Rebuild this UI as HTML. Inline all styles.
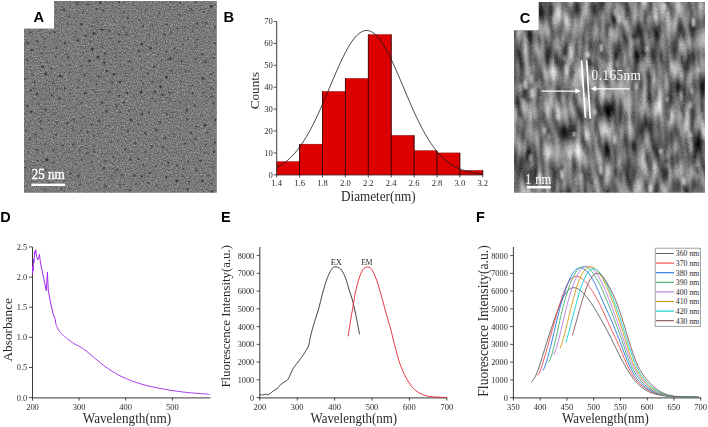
<!DOCTYPE html>
<html lang="en"><head><meta charset="utf-8"><title>Figure</title>
<style>
html,body{margin:0;padding:0;background:#fff;}
body{width:708px;height:427px;overflow:hidden;position:relative;}
svg{display:block;position:absolute;left:0;top:0;}
.se{font-family:"Liberation Serif", "DejaVu Serif", serif;}
.sa{font-family:"Liberation Sans", "DejaVu Sans", sans-serif;font-weight:bold;}
</style></head><body>
<svg width="708" height="427" viewBox="0 0 708 427">
<defs>
<filter id="grainA" x="0" y="0" width="100%" height="100%" color-interpolation-filters="sRGB"><feTurbulence type="fractalNoise" baseFrequency="0.75" numOctaves="2" seed="7" result="n"/><feColorMatrix in="n" type="matrix" values="0.54 0 0 0 0.2047  0.54 0 0 0 0.2047  0.54 0 0 0 0.2047  0 0 0 0 1"/></filter>
<filter id="grainC" x="0" y="0" width="100%" height="100%" color-interpolation-filters="sRGB"><feTurbulence type="fractalNoise" baseFrequency="0.19 0.05" numOctaves="1" seed="11" result="n1"/><feColorMatrix in="n1" type="matrix" values="1 0 0 0 0  1 0 0 0 0  1 0 0 0 0  0 0 0 0 1" result="g1"/><feTurbulence type="fractalNoise" baseFrequency="0.09 0.05" numOctaves="1" seed="5" result="n4"/><feColorMatrix in="n4" type="matrix" values="1 0 0 0 0  1 0 0 0 0  1 0 0 0 0  0 0 0 0 1" result="g4"/><feTurbulence type="fractalNoise" baseFrequency="0.6" numOctaves="1" seed="3" result="n2"/><feColorMatrix in="n2" type="matrix" values="1 0 0 0 0  1 0 0 0 0  1 0 0 0 0  0 0 0 0 1" result="g2"/><feTurbulence type="fractalNoise" baseFrequency="0.03 0.028" numOctaves="1" seed="23" result="n3"/><feColorMatrix in="n3" type="matrix" values="1 0 0 0 0  1 0 0 0 0  1 0 0 0 0  0 0 0 0 1" result="g3"/><feComposite in="g1" in2="g4" operator="arithmetic" k1="0" k2="0.40" k3="0.30" k4="0" result="c1"/><feComposite in="c1" in2="g2" operator="arithmetic" k1="0" k2="1" k3="0.12" k4="0" result="c2"/><feComposite in="c2" in2="g3" operator="arithmetic" k1="0" k2="2.3" k3="0.55" k4="-0.745" result="c3"/><feGaussianBlur in="c3" stdDeviation="0.5"/></filter>
<filter id="b1"><feGaussianBlur stdDeviation="0.55"/></filter>
<filter id="b1c" x="-5%" y="-5%" width="110%" height="110%"><feGaussianBlur stdDeviation="1.1"/></filter>
<filter id="b6" x="-50%" y="-50%" width="200%" height="200%"><feGaussianBlur stdDeviation="3.2"/></filter>
<clipPath id="clipA"><path d="M54.1 1H216.6V192.4H24V28.7H54.1Z"/></clipPath>
<clipPath id="clipC"><path d="M538.8 2H704.9V192.4H514.1V30.4H538.8Z"/></clipPath>
</defs>
<g clip-path="url(#clipA)">
<rect x="24" y="1" width="193" height="192" fill="#7a7a7a"/>
<rect x="24" y="1" width="193" height="192" filter="url(#grainA)"/>
<g fill="#303030" filter="url(#b1)">
<circle cx="143.97" cy="142.94" r="0.8" opacity="0.5"/>
<circle cx="176.88" cy="181.07" r="1.2" opacity="0.85"/>
<circle cx="166.32" cy="177.24" r="1.2" opacity="0.75"/>
<circle cx="30.54" cy="90.47" r="1.35" opacity="0.56"/>
<circle cx="205.18" cy="125.31" r="1.35" opacity="0.9"/>
<circle cx="197.07" cy="23.51" r="1.2" opacity="0.74"/>
<circle cx="114.59" cy="48.85" r="1.0" opacity="0.5"/>
<circle cx="128.86" cy="111.05" r="0.9" opacity="0.72"/>
<circle cx="27.5" cy="43.18" r="1.2" opacity="0.63"/>
<circle cx="78.38" cy="176.11" r="1.35" opacity="0.75"/>
<circle cx="171.25" cy="32.32" r="1.1" opacity="0.46"/>
<circle cx="177.26" cy="28.37" r="0.9" opacity="0.76"/>
<circle cx="142.93" cy="26.07" r="1.1" opacity="0.77"/>
<circle cx="25.34" cy="167.57" r="0.9" opacity="0.79"/>
<circle cx="65.01" cy="42.94" r="1.1" opacity="0.83"/>
<circle cx="212.64" cy="167.76" r="1.1" opacity="0.54"/>
<circle cx="80.26" cy="184.68" r="1.0" opacity="0.74"/>
<circle cx="127.99" cy="130.79" r="1.1" opacity="0.78"/>
<circle cx="64.11" cy="180.79" r="1.1" opacity="0.66"/>
<circle cx="156.91" cy="185.65" r="0.9" opacity="0.61"/>
<circle cx="195.7" cy="58.77" r="1.0" opacity="0.69"/>
<circle cx="93.99" cy="33.53" r="1.35" opacity="0.93"/>
<circle cx="82.56" cy="116.59" r="0.8" opacity="0.89"/>
<circle cx="25.65" cy="130.81" r="0.8" opacity="0.92"/>
<circle cx="89.54" cy="60.89" r="1.35" opacity="0.88"/>
<circle cx="181.34" cy="93.34" r="0.8" opacity="0.55"/>
<circle cx="85.32" cy="93.43" r="1.35" opacity="0.72"/>
<circle cx="159.59" cy="12.83" r="0.9" opacity="0.61"/>
<circle cx="211.24" cy="6.34" r="1.35" opacity="0.9"/>
<circle cx="168.21" cy="162.53" r="1.1" opacity="0.95"/>
<circle cx="28.45" cy="151.67" r="1.0" opacity="0.59"/>
<circle cx="94.94" cy="111.92" r="0.8" opacity="0.51"/>
<circle cx="62.54" cy="145.59" r="1.35" opacity="0.49"/>
<circle cx="202.56" cy="180.99" r="1.35" opacity="0.87"/>
<circle cx="90.78" cy="69.41" r="0.9" opacity="0.49"/>
<circle cx="125.22" cy="149.36" r="1.1" opacity="0.67"/>
<circle cx="45.64" cy="144.2" r="1.0" opacity="0.64"/>
<circle cx="177.27" cy="165.34" r="1.2" opacity="0.63"/>
<circle cx="32" cy="181.7" r="0.9" opacity="0.49"/>
<circle cx="42.42" cy="66.74" r="1.35" opacity="0.89"/>
<circle cx="141.67" cy="176.44" r="1.35" opacity="0.61"/>
<circle cx="89.93" cy="177.6" r="0.8" opacity="0.82"/>
<circle cx="129.12" cy="61.37" r="1.2" opacity="0.64"/>
<circle cx="85.51" cy="35.72" r="1.2" opacity="0.61"/>
<circle cx="39.94" cy="30.28" r="0.9" opacity="0.75"/>
<circle cx="55.85" cy="11.22" r="0.9" opacity="0.46"/>
<circle cx="213.46" cy="103.37" r="1.1" opacity="0.77"/>
<circle cx="102.52" cy="47.09" r="0.8" opacity="0.87"/>
<circle cx="138.45" cy="159" r="1.35" opacity="0.64"/>
<circle cx="112.03" cy="82.13" r="1.0" opacity="0.7"/>
<circle cx="185.14" cy="26.81" r="1.1" opacity="0.49"/>
<circle cx="145.41" cy="151.72" r="1.2" opacity="0.49"/>
<circle cx="45.37" cy="84.57" r="1.0" opacity="0.54"/>
<circle cx="53.51" cy="162.5" r="1.2" opacity="0.47"/>
<circle cx="211.42" cy="88.17" r="1.2" opacity="0.48"/>
<circle cx="118.24" cy="140.61" r="0.8" opacity="0.73"/>
<circle cx="116.5" cy="57.29" r="0.8" opacity="0.86"/>
<circle cx="102.12" cy="29.84" r="1.1" opacity="0.88"/>
<circle cx="97.01" cy="189.79" r="0.8" opacity="0.72"/>
<circle cx="120.37" cy="66.31" r="0.9" opacity="0.75"/>
<circle cx="42.03" cy="53.74" r="0.8" opacity="0.8"/>
<circle cx="94.01" cy="151.34" r="1.1" opacity="0.63"/>
<circle cx="173.01" cy="133.97" r="0.8" opacity="0.83"/>
<circle cx="151.83" cy="146.33" r="1.35" opacity="0.55"/>
<circle cx="94.42" cy="135.85" r="1.0" opacity="0.59"/>
<circle cx="149.09" cy="112.33" r="1.0" opacity="0.93"/>
<circle cx="27.21" cy="105.93" r="1.2" opacity="0.68"/>
<circle cx="72.88" cy="129.61" r="0.9" opacity="0.57"/>
<circle cx="113.42" cy="157.17" r="0.9" opacity="0.94"/>
<circle cx="91.45" cy="124.37" r="0.9" opacity="0.89"/>
<circle cx="91.86" cy="162.15" r="0.8" opacity="0.81"/>
<circle cx="191.15" cy="132.78" r="1.1" opacity="0.76"/>
<circle cx="211.44" cy="183.74" r="0.8" opacity="0.79"/>
<circle cx="123.96" cy="102.57" r="1.0" opacity="0.92"/>
<circle cx="204.04" cy="92.68" r="1.1" opacity="0.55"/>
<circle cx="157.06" cy="138.74" r="0.9" opacity="0.46"/>
<circle cx="164.5" cy="34.65" r="1.35" opacity="0.66"/>
<circle cx="174.05" cy="112.36" r="0.9" opacity="0.52"/>
<circle cx="152.12" cy="81.95" r="1.0" opacity="0.54"/>
<circle cx="30.28" cy="32.4" r="1.2" opacity="0.5"/>
<circle cx="109.24" cy="125.52" r="1.0" opacity="0.58"/>
<circle cx="145.5" cy="9.95" r="0.9" opacity="0.63"/>
<circle cx="113.88" cy="74.26" r="1.2" opacity="0.94"/>
<circle cx="141.85" cy="114.13" r="1.35" opacity="0.64"/>
<circle cx="70.43" cy="173.6" r="1.1" opacity="0.81"/>
<circle cx="25.13" cy="79.02" r="1.1" opacity="0.57"/>
<circle cx="78.2" cy="79.91" r="1.0" opacity="0.48"/>
<circle cx="46.98" cy="159.96" r="1.35" opacity="0.92"/>
<circle cx="96.41" cy="8.85" r="1.2" opacity="0.6"/>
<circle cx="135.95" cy="184.08" r="1.0" opacity="0.85"/>
<circle cx="181.34" cy="81.63" r="0.8" opacity="0.9"/>
<circle cx="180.28" cy="124.04" r="0.8" opacity="0.51"/>
<circle cx="141.24" cy="68.71" r="0.9" opacity="0.58"/>
<circle cx="195.65" cy="2.18" r="1.0" opacity="0.58"/>
<circle cx="45.61" cy="109.5" r="1.1" opacity="0.92"/>
<circle cx="96.79" cy="84.02" r="0.9" opacity="0.78"/>
<circle cx="68.23" cy="57.38" r="1.1" opacity="0.84"/>
<circle cx="210.74" cy="74.16" r="0.9" opacity="0.68"/>
<circle cx="208.58" cy="175.61" r="1.2" opacity="0.53"/>
<circle cx="138.8" cy="51.37" r="1.35" opacity="0.63"/>
<circle cx="212.37" cy="96.3" r="0.9" opacity="0.8"/>
<circle cx="104.36" cy="62.64" r="1.1" opacity="0.92"/>
<circle cx="48.28" cy="120.12" r="0.8" opacity="0.58"/>
<circle cx="174.34" cy="48.68" r="1.1" opacity="0.56"/>
<circle cx="76.13" cy="31.41" r="0.8" opacity="0.74"/>
<circle cx="213.87" cy="57.71" r="0.8" opacity="0.81"/>
<circle cx="141.14" cy="92.18" r="1.35" opacity="0.9"/>
<circle cx="167" cy="24.45" r="1.0" opacity="0.79"/>
<circle cx="170.24" cy="59.13" r="1.35" opacity="0.88"/>
<circle cx="81.69" cy="102.67" r="0.8" opacity="0.95"/>
<circle cx="167.3" cy="114.25" r="1.1" opacity="0.8"/>
<circle cx="31.96" cy="49.96" r="1.1" opacity="0.92"/>
<circle cx="112.02" cy="176.15" r="1.2" opacity="0.49"/>
<circle cx="194.6" cy="105.66" r="1.35" opacity="0.6"/>
<circle cx="106.7" cy="111.37" r="1.35" opacity="0.74"/>
<circle cx="160.26" cy="122.12" r="0.9" opacity="0.95"/>
<circle cx="98.63" cy="76.45" r="1.0" opacity="0.93"/>
<circle cx="187.71" cy="39.33" r="0.8" opacity="0.9"/>
<circle cx="81.62" cy="159.7" r="1.0" opacity="0.62"/>
<circle cx="37.62" cy="160.89" r="1.0" opacity="0.73"/>
<circle cx="79.69" cy="150.34" r="1.0" opacity="0.55"/>
<circle cx="116.38" cy="106.33" r="1.0" opacity="0.84"/>
<circle cx="54.32" cy="113.31" r="1.0" opacity="0.52"/>
<circle cx="180.06" cy="15" r="1.35" opacity="0.49"/>
<circle cx="68.93" cy="157.72" r="0.8" opacity="0.53"/>
<circle cx="29.88" cy="139.29" r="1.2" opacity="0.49"/>
<circle cx="211.93" cy="191.68" r="1.2" opacity="0.78"/>
<circle cx="148.34" cy="182.93" r="1.0" opacity="0.81"/>
<circle cx="45.67" cy="74.05" r="1.35" opacity="0.86"/>
<circle cx="134.87" cy="143.04" r="1.35" opacity="0.66"/>
<circle cx="35.65" cy="134.49" r="1.1" opacity="0.59"/>
<circle cx="121.62" cy="174.98" r="1.1" opacity="0.67"/>
<circle cx="130.98" cy="119.97" r="1.35" opacity="0.91"/>
<circle cx="75.28" cy="106.82" r="0.9" opacity="0.56"/>
<circle cx="73.55" cy="144.61" r="1.2" opacity="0.63"/>
<circle cx="123.75" cy="27.42" r="0.9" opacity="0.7"/>
<circle cx="69.77" cy="72.53" r="1.0" opacity="0.64"/>
<circle cx="41.28" cy="128.91" r="1.1" opacity="0.63"/>
<circle cx="192.49" cy="93.29" r="1.1" opacity="0.75"/>
<circle cx="86.75" cy="153.33" r="1.0" opacity="0.8"/>
<circle cx="67.61" cy="24.05" r="0.8" opacity="0.7"/>
<circle cx="69.89" cy="65.32" r="0.9" opacity="0.78"/>
<circle cx="187.65" cy="100.32" r="0.8" opacity="0.79"/>
<circle cx="166.37" cy="77.15" r="1.35" opacity="0.88"/>
<circle cx="63.66" cy="9.5" r="1.2" opacity="0.75"/>
<circle cx="170.23" cy="2.08" r="0.8" opacity="0.73"/>
<circle cx="143.32" cy="83.44" r="1.2" opacity="0.6"/>
<circle cx="113.92" cy="20.95" r="0.8" opacity="0.72"/>
<circle cx="54.54" cy="32.22" r="1.1" opacity="0.71"/>
<circle cx="193.15" cy="30.9" r="0.8" opacity="0.67"/>
<circle cx="55.85" cy="56.54" r="0.8" opacity="0.77"/>
<circle cx="69.92" cy="93.59" r="1.0" opacity="0.53"/>
<circle cx="156.35" cy="130.02" r="1.35" opacity="0.67"/>
<circle cx="80.6" cy="130.15" r="0.8" opacity="0.6"/>
<circle cx="69.02" cy="16.86" r="1.1" opacity="0.5"/>
<circle cx="164.88" cy="138.41" r="1.35" opacity="0.62"/>
<circle cx="56.2" cy="47.7" r="1.2" opacity="0.64"/>
<circle cx="36.63" cy="150.06" r="1.2" opacity="0.52"/>
<circle cx="103.34" cy="10.54" r="1.35" opacity="0.58"/>
<circle cx="129.75" cy="190.03" r="1.35" opacity="0.57"/>
<circle cx="203.73" cy="12.21" r="0.9" opacity="0.8"/>
<circle cx="83.44" cy="11.75" r="0.9" opacity="0.58"/>
<circle cx="59.26" cy="98.64" r="1.1" opacity="0.77"/>
<circle cx="101.85" cy="102.95" r="1.35" opacity="0.57"/>
<circle cx="200.97" cy="115.67" r="0.9" opacity="0.66"/>
<circle cx="182.85" cy="44.55" r="1.2" opacity="0.47"/>
<circle cx="47.1" cy="61.23" r="0.9" opacity="0.54"/>
<circle cx="181.51" cy="61.45" r="1.0" opacity="0.75"/>
<circle cx="96.39" cy="20.72" r="0.8" opacity="0.84"/>
<circle cx="196.15" cy="126.28" r="0.9" opacity="0.88"/>
<circle cx="189.22" cy="182.35" r="1.1" opacity="0.76"/>
<circle cx="106.92" cy="70.86" r="1.2" opacity="0.76"/>
<circle cx="88.1" cy="4.36" r="1.35" opacity="0.46"/>
<circle cx="126.29" cy="34.53" r="1.35" opacity="0.67"/>
<circle cx="160.5" cy="86.78" r="1.35" opacity="0.87"/>
<circle cx="204.26" cy="153.01" r="0.8" opacity="0.81"/>
<circle cx="31.28" cy="111.63" r="1.1" opacity="0.91"/>
<circle cx="117.06" cy="169.54" r="1.35" opacity="0.53"/>
<circle cx="77.92" cy="40.22" r="1.2" opacity="0.8"/>
<circle cx="132.42" cy="69.83" r="0.9" opacity="0.84"/>
<circle cx="92.19" cy="49.17" r="1.35" opacity="0.91"/>
<circle cx="187.32" cy="119.45" r="0.9" opacity="0.77"/>
<circle cx="196.93" cy="39.87" r="1.0" opacity="0.7"/>
<circle cx="155.43" cy="165.99" r="0.8" opacity="0.74"/>
<circle cx="60.29" cy="75.93" r="1.35" opacity="0.93"/>
<circle cx="84.61" cy="74.74" r="1.35" opacity="0.48"/>
<circle cx="154.78" cy="101.22" r="0.9" opacity="0.49"/>
<circle cx="161.46" cy="60.29" r="0.8" opacity="0.79"/>
<circle cx="202.48" cy="54.17" r="1.1" opacity="0.88"/>
<circle cx="196.16" cy="47.43" r="0.9" opacity="0.57"/>
<circle cx="100.14" cy="2.56" r="1.35" opacity="0.81"/>
<circle cx="149.74" cy="172.91" r="1.1" opacity="0.86"/>
<circle cx="83.37" cy="52.86" r="0.8" opacity="0.65"/>
<circle cx="56.98" cy="122.23" r="1.1" opacity="0.6"/>
<circle cx="183.58" cy="168.93" r="0.9" opacity="0.68"/>
<circle cx="209.61" cy="37.57" r="0.9" opacity="0.46"/>
<circle cx="138.55" cy="124.81" r="1.0" opacity="0.62"/>
<circle cx="36.73" cy="94.09" r="1.2" opacity="0.92"/>
<circle cx="44.25" cy="38.77" r="0.8" opacity="0.67"/>
<circle cx="37.31" cy="41.22" r="1.2" opacity="0.64"/>
<circle cx="119.64" cy="184.91" r="1.1" opacity="0.49"/>
<circle cx="81.52" cy="24.2" r="1.2" opacity="0.88"/>
<circle cx="97.98" cy="57.21" r="1.35" opacity="0.86"/>
<circle cx="81.53" cy="66.02" r="1.1" opacity="0.57"/>
<circle cx="34.63" cy="81.94" r="1.1" opacity="0.65"/>
<circle cx="98.78" cy="179.44" r="0.9" opacity="0.63"/>
<circle cx="179.86" cy="2.97" r="1.0" opacity="0.74"/>
<circle cx="171.29" cy="70.6" r="0.9" opacity="0.91"/>
<circle cx="123.7" cy="12.09" r="0.9" opacity="0.7"/>
<circle cx="109.54" cy="91.66" r="1.35" opacity="0.49"/>
<circle cx="207.36" cy="132.54" r="1.0" opacity="0.77"/>
<circle cx="103.93" cy="168.1" r="1.1" opacity="0.72"/>
<circle cx="182.71" cy="175.92" r="1.0" opacity="0.52"/>
<circle cx="53.31" cy="150.37" r="1.0" opacity="0.93"/>
<circle cx="105.63" cy="186.7" r="1.35" opacity="0.63"/>
<circle cx="214.89" cy="43.17" r="1.0" opacity="0.79"/>
<circle cx="105.49" cy="53.47" r="1.2" opacity="0.73"/>
<circle cx="152.3" cy="25.43" r="0.9" opacity="0.79"/>
<circle cx="57.32" cy="88.96" r="1.1" opacity="0.52"/>
<circle cx="196.4" cy="170.21" r="1.35" opacity="0.64"/>
<circle cx="147.91" cy="73.25" r="1.0" opacity="0.89"/>
<circle cx="95.42" cy="92.76" r="0.8" opacity="0.61"/>
<circle cx="32.31" cy="75.24" r="0.9" opacity="0.52"/>
<circle cx="110.71" cy="141.88" r="1.0" opacity="0.66"/>
<circle cx="125.99" cy="75.86" r="0.9" opacity="0.62"/>
<circle cx="130.38" cy="159.64" r="1.1" opacity="0.88"/>
<circle cx="51.36" cy="68.68" r="0.9" opacity="0.73"/>
<circle cx="64.61" cy="88.25" r="1.1" opacity="0.94"/>
<circle cx="166.56" cy="51.8" r="1.2" opacity="0.56"/>
<circle cx="99.22" cy="121.47" r="1.1" opacity="0.79"/>
<circle cx="192.42" cy="85.34" r="0.9" opacity="0.81"/>
<circle cx="191.42" cy="9.56" r="1.2" opacity="0.6"/>
<circle cx="141.9" cy="44.09" r="1.35" opacity="0.93"/>
<circle cx="206.26" cy="23.09" r="1.35" opacity="0.49"/>
<circle cx="195.39" cy="138.96" r="1.2" opacity="0.62"/>
<circle cx="169.82" cy="99.99" r="1.1" opacity="0.55"/>
<circle cx="149.27" cy="35.21" r="0.8" opacity="0.8"/>
<circle cx="51.51" cy="95.33" r="1.0" opacity="0.87"/>
<circle cx="134.5" cy="175.3" r="1.2" opacity="0.63"/>
<circle cx="45.6" cy="99.2" r="0.8" opacity="0.54"/>
<circle cx="127.64" cy="17.9" r="1.0" opacity="0.89"/>
<circle cx="179.88" cy="102.51" r="0.8" opacity="0.89"/>
<circle cx="134.63" cy="97.03" r="0.9" opacity="0.74"/>
<circle cx="44.6" cy="191.53" r="0.8" opacity="0.46"/>
<circle cx="143.35" cy="164.89" r="1.0" opacity="0.75"/>
<circle cx="56.17" cy="134.76" r="1.1" opacity="0.68"/>
<circle cx="205.24" cy="61.36" r="1.35" opacity="0.59"/>
<circle cx="105.37" cy="161.16" r="1.2" opacity="0.63"/>
<circle cx="154.07" cy="66.57" r="1.1" opacity="0.9"/>
<circle cx="119.46" cy="2.23" r="1.0" opacity="0.82"/>
<circle cx="176.05" cy="148.59" r="0.8" opacity="0.53"/>
<circle cx="127.23" cy="92.93" r="1.1" opacity="0.84"/>
<circle cx="77.29" cy="3.92" r="1.2" opacity="0.62"/>
<circle cx="82.3" cy="140.47" r="0.8" opacity="0.83"/>
<circle cx="156.64" cy="43.24" r="0.9" opacity="0.73"/>
<circle cx="109.69" cy="38.24" r="0.8" opacity="0.55"/>
<circle cx="185.49" cy="71.47" r="0.9" opacity="0.84"/>
<circle cx="53.44" cy="82.81" r="1.2" opacity="0.6"/>
<circle cx="169.58" cy="92.76" r="1.1" opacity="0.92"/>
<circle cx="38.54" cy="104.02" r="1.0" opacity="0.48"/>
<circle cx="138.53" cy="19.92" r="0.9" opacity="0.51"/>
<circle cx="109.62" cy="30.72" r="0.9" opacity="0.89"/>
<circle cx="78.14" cy="87.41" r="1.0" opacity="0.57"/>
<circle cx="90.41" cy="41.71" r="0.9" opacity="0.81"/>
<circle cx="87.67" cy="132.35" r="1.35" opacity="0.54"/>
<circle cx="186.55" cy="110.25" r="1.35" opacity="0.74"/>
<circle cx="40.56" cy="121.05" r="1.2" opacity="0.7"/>
<circle cx="188" cy="161.93" r="1.1" opacity="0.7"/>
<circle cx="46.26" cy="170.2" r="1.35" opacity="0.51"/>
<circle cx="215.43" cy="26.73" r="0.9" opacity="0.91"/>
<circle cx="202.99" cy="78.38" r="1.2" opacity="0.86"/>
<circle cx="73.78" cy="119.69" r="0.9" opacity="0.95"/>
<circle cx="150.87" cy="48.3" r="1.2" opacity="0.86"/>
<circle cx="120.37" cy="112.37" r="1.0" opacity="0.72"/>
<circle cx="56" cy="179.49" r="0.9" opacity="0.9"/>
<circle cx="213.91" cy="151.73" r="1.2" opacity="0.91"/>
<circle cx="61.64" cy="189.02" r="1.2" opacity="0.54"/>
<circle cx="215.11" cy="142.64" r="1.35" opacity="0.54"/>
<circle cx="200.79" cy="160.78" r="1.2" opacity="0.76"/>
<circle cx="162.5" cy="95.3" r="1.1" opacity="0.85"/>
<circle cx="27" cy="59.9" r="0.8" opacity="0.77"/>
<circle cx="184.86" cy="143.43" r="1.2" opacity="0.58"/>
<circle cx="145.17" cy="133.26" r="1.0" opacity="0.9"/>
<circle cx="121.48" cy="127.83" r="0.8" opacity="0.84"/>
<circle cx="162.94" cy="147.4" r="1.35" opacity="0.49"/>
<circle cx="205.7" cy="145.65" r="0.9" opacity="0.55"/>
<circle cx="119.27" cy="95.77" r="1.1" opacity="0.9"/>
<circle cx="125.04" cy="53.1" r="0.9" opacity="0.53"/>
<circle cx="44.88" cy="47.23" r="0.9" opacity="0.55"/>
<circle cx="215.42" cy="120.04" r="1.0" opacity="0.87"/>
<circle cx="119.13" cy="41.82" r="1.1" opacity="0.68"/>
<circle cx="33.78" cy="170.89" r="1.0" opacity="0.54"/>
<circle cx="119.05" cy="34.38" r="1.35" opacity="0.53"/>
<circle cx="67.21" cy="123.43" r="1.35" opacity="0.63"/>
<circle cx="154.99" cy="91.92" r="1.2" opacity="0.65"/>
<circle cx="187.92" cy="189.5" r="1.1" opacity="0.78"/>
<circle cx="119.82" cy="82.12" r="1.35" opacity="0.84"/>
<circle cx="48.41" cy="183.53" r="1.2" opacity="0.72"/>
<circle cx="91.76" cy="26.47" r="0.8" opacity="0.68"/>
<circle cx="158.02" cy="53.93" r="0.9" opacity="0.65"/>
</g>
</g>
<rect x="31.3" y="183.6" width="33.7" height="2.4" fill="#fff"/>
<text class="se" transform="translate(48.2 179.4) scale(1 1.09)" font-size="13" text-anchor="middle" fill="#fff" stroke="#fff" stroke-width="0.35">25 nm</text>
<text class="sa" x="38.9" y="22.4" font-size="14.7" text-anchor="middle" fill="#000">A</text>
<rect x="276.7" y="161.7" width="22.9" height="13.15" fill="#dc0000" stroke="#8c0000" stroke-width="0.5"/>
<rect x="299.6" y="144.18" width="22.9" height="30.67" fill="#dc0000" stroke="#8c0000" stroke-width="0.5"/>
<rect x="322.5" y="91.59" width="22.9" height="83.26" fill="#dc0000" stroke="#8c0000" stroke-width="0.5"/>
<rect x="345.4" y="78.45" width="22.9" height="96.4" fill="#dc0000" stroke="#8c0000" stroke-width="0.5"/>
<rect x="368.3" y="34.63" width="22.9" height="140.22" fill="#dc0000" stroke="#8c0000" stroke-width="0.5"/>
<rect x="391.2" y="135.41" width="22.9" height="39.44" fill="#dc0000" stroke="#8c0000" stroke-width="0.5"/>
<rect x="414.1" y="150.75" width="22.9" height="24.1" fill="#dc0000" stroke="#8c0000" stroke-width="0.5"/>
<rect x="437" y="152.94" width="22.9" height="21.91" fill="#dc0000" stroke="#8c0000" stroke-width="0.5"/>
<rect x="459.9" y="170.47" width="22.9" height="4.38" fill="#dc0000" stroke="#8c0000" stroke-width="0.5"/>
<path d="M299.6 144.18V174.85" stroke="#200000" stroke-width="0.75"/>
<path d="M322.5 91.59V174.85" stroke="#200000" stroke-width="0.75"/>
<path d="M345.4 78.45V174.85" stroke="#200000" stroke-width="0.75"/>
<path d="M368.3 34.63V174.85" stroke="#200000" stroke-width="0.75"/>
<path d="M391.2 34.63V174.85" stroke="#200000" stroke-width="0.75"/>
<path d="M414.1 135.41V174.85" stroke="#200000" stroke-width="0.75"/>
<path d="M437 150.75V174.85" stroke="#200000" stroke-width="0.75"/>
<path d="M459.9 152.94V174.85" stroke="#200000" stroke-width="0.75"/>
<path d="M482.8 170.47V174.85" stroke="#200000" stroke-width="0.75"/>
<path d="M276.7 167.45L278.99 166.26L281.28 164.92L283.57 163.4L285.86 161.71L288.15 159.82L290.44 157.74L292.73 155.43L295.02 152.9L297.31 150.14L299.6 147.13L301.89 143.88L304.18 140.38L306.47 136.63L308.76 132.64L311.05 128.41L313.34 123.95L315.63 119.29L317.92 114.42L320.21 109.39L322.5 104.2L324.79 98.9L327.08 93.52L329.37 88.09L331.66 82.66L333.95 77.26L336.24 71.94L338.53 66.75L340.82 61.74L343.11 56.95L345.4 52.43L347.69 48.23L349.98 44.38L352.27 40.94L354.56 37.94L356.85 35.41L359.14 33.38L361.43 31.87L363.72 30.9L366.01 30.48L368.3 30.62L370.59 31.31L372.88 32.55L375.17 34.33L377.46 36.61L379.75 39.38L382.04 42.61L384.33 46.26L386.62 50.29L388.91 54.65L391.2 59.31L393.49 64.22L395.78 69.33L398.07 74.59L400.36 79.95L402.65 85.37L404.94 90.81L407.23 96.22L409.52 101.57L411.81 106.81L414.1 111.92L416.39 116.88L418.68 121.65L420.97 126.21L423.26 130.55L425.55 134.67L427.84 138.54L430.13 142.16L432.42 145.53L434.71 148.66L437 151.55L439.29 154.19L441.58 156.61L443.87 158.81L446.16 160.79L448.45 162.58L450.74 164.18L453.03 165.61L455.32 166.88L457.61 168L459.9 168.98L462.19 169.85L464.48 170.6L466.77 171.25L469.06 171.82L471.35 172.3L473.64 172.72L475.93 173.07L478.22 173.38L480.51 173.63L482.8 173.85" fill="none" stroke="#1a1a1a" stroke-width="0.8"/>
<path d="M276.7 21.4V175.25" fill="none" stroke="#3a3a3a" stroke-width="1"/>
<path d="M276.7 174.95H482.8" fill="none" stroke="#3a1010" stroke-width="0.7"/>
<path d="M276.7 174.85h-3" stroke="#3a3a3a" stroke-width="0.9"/>
<text class="se" x="272.8" y="177.85" font-size="8.6" text-anchor="end" fill="#2a2a2a">0</text>
<path d="M276.7 152.94h-3" stroke="#3a3a3a" stroke-width="0.9"/>
<text class="se" x="272.8" y="155.94" font-size="8.6" text-anchor="end" fill="#2a2a2a">10</text>
<path d="M276.7 131.03h-3" stroke="#3a3a3a" stroke-width="0.9"/>
<text class="se" x="272.8" y="134.03" font-size="8.6" text-anchor="end" fill="#2a2a2a">20</text>
<path d="M276.7 109.12h-3" stroke="#3a3a3a" stroke-width="0.9"/>
<text class="se" x="272.8" y="112.12" font-size="8.6" text-anchor="end" fill="#2a2a2a">30</text>
<path d="M276.7 87.21h-3" stroke="#3a3a3a" stroke-width="0.9"/>
<text class="se" x="272.8" y="90.21" font-size="8.6" text-anchor="end" fill="#2a2a2a">40</text>
<path d="M276.7 65.3h-3" stroke="#3a3a3a" stroke-width="0.9"/>
<text class="se" x="272.8" y="68.3" font-size="8.6" text-anchor="end" fill="#2a2a2a">50</text>
<path d="M276.7 43.39h-3" stroke="#3a3a3a" stroke-width="0.9"/>
<text class="se" x="272.8" y="46.39" font-size="8.6" text-anchor="end" fill="#2a2a2a">60</text>
<path d="M276.7 21.48h-3" stroke="#3a3a3a" stroke-width="0.9"/>
<text class="se" x="272.8" y="24.48" font-size="8.6" text-anchor="end" fill="#2a2a2a">70</text>
<path d="M276.7 174.85v2.6" stroke="#3a3a3a" stroke-width="0.9"/>
<text class="se" x="276.7" y="185.5" font-size="8.6" text-anchor="middle" fill="#2a2a2a">1.4</text>
<path d="M299.6 174.85v2.6" stroke="#3a3a3a" stroke-width="0.9"/>
<text class="se" x="299.6" y="185.5" font-size="8.6" text-anchor="middle" fill="#2a2a2a">1.6</text>
<path d="M322.5 174.85v2.6" stroke="#3a3a3a" stroke-width="0.9"/>
<text class="se" x="322.5" y="185.5" font-size="8.6" text-anchor="middle" fill="#2a2a2a">1.8</text>
<path d="M345.4 174.85v2.6" stroke="#3a3a3a" stroke-width="0.9"/>
<text class="se" x="345.4" y="185.5" font-size="8.6" text-anchor="middle" fill="#2a2a2a">2.0</text>
<path d="M368.3 174.85v2.6" stroke="#3a3a3a" stroke-width="0.9"/>
<text class="se" x="368.3" y="185.5" font-size="8.6" text-anchor="middle" fill="#2a2a2a">2.2</text>
<path d="M391.2 174.85v2.6" stroke="#3a3a3a" stroke-width="0.9"/>
<text class="se" x="391.2" y="185.5" font-size="8.6" text-anchor="middle" fill="#2a2a2a">2.4</text>
<path d="M414.1 174.85v2.6" stroke="#3a3a3a" stroke-width="0.9"/>
<text class="se" x="414.1" y="185.5" font-size="8.6" text-anchor="middle" fill="#2a2a2a">2.6</text>
<path d="M437 174.85v2.6" stroke="#3a3a3a" stroke-width="0.9"/>
<text class="se" x="437" y="185.5" font-size="8.6" text-anchor="middle" fill="#2a2a2a">2.8</text>
<path d="M459.9 174.85v2.6" stroke="#3a3a3a" stroke-width="0.9"/>
<text class="se" x="459.9" y="185.5" font-size="8.6" text-anchor="middle" fill="#2a2a2a">3.0</text>
<path d="M482.8 174.85v2.6" stroke="#3a3a3a" stroke-width="0.9"/>
<text class="se" x="482.8" y="185.5" font-size="8.6" text-anchor="middle" fill="#2a2a2a">3.2</text>
<text class="se" transform="translate(378.3 200.6) scale(1 1.14)" font-size="13.2" text-anchor="middle" fill="#2a2a2a">Diameter(nm)</text>
<text class="se" font-size="13.2" text-anchor="middle" fill="#2a2a2a" transform="translate(259.2 90.6) rotate(-90)">Counts</text>
<text class="sa" x="228.7" y="22.4" font-size="14.7" text-anchor="middle" fill="#000">B</text>
<g clip-path="url(#clipC)">
<rect x="514" y="2" width="191" height="191" fill="#727272"/>
<g transform="rotate(-3 610 97)"><rect x="490" y="-20" width="240" height="240" filter="url(#grainC)"/></g>
<g filter="url(#b6)">
<ellipse cx="664" cy="138" rx="11" ry="13" fill="#1a1a1a" opacity="0.42"/>
<ellipse cx="634" cy="28" rx="4" ry="9" fill="#111" opacity="0.45"/>
<ellipse cx="693" cy="98" rx="4" ry="10" fill="#111" opacity="0.4"/>
<ellipse cx="672" cy="100" rx="6" ry="8" fill="#222" opacity="0.25"/>
<ellipse cx="551" cy="92" rx="4" ry="5" fill="#fff" opacity="0.55"/>
<ellipse cx="608" cy="50" rx="3" ry="8" fill="#fff" opacity="0.5"/>
<ellipse cx="537" cy="133" rx="4" ry="7" fill="#fff" opacity="0.4"/>
<ellipse cx="681" cy="9" rx="4" ry="7" fill="#fff" opacity="0.5"/>
<ellipse cx="620" cy="150" rx="10" ry="10" fill="#888" opacity="0.25"/>
</g>
<g filter="url(#b1c)">
<ellipse cx="546.85" cy="132.3" rx="1.58" ry="3.15" fill="#000" opacity="0.5" transform="rotate(-3 546.85 132.3)"/>
<ellipse cx="667.07" cy="99.32" rx="1.39" ry="2.51" fill="#fff" opacity="0.5" transform="rotate(-3 667.07 99.32)"/>
<ellipse cx="625.46" cy="16.88" rx="1.39" ry="3.2" fill="#000" opacity="0.31" transform="rotate(-3 625.46 16.88)"/>
<ellipse cx="702.54" cy="141.4" rx="1.69" ry="2.6" fill="#000" opacity="0.38" transform="rotate(-3 702.54 141.4)"/>
<ellipse cx="609.04" cy="25.54" rx="1.49" ry="2.96" fill="#000" opacity="0.5" transform="rotate(-3 609.04 25.54)"/>
<ellipse cx="539.35" cy="176.6" rx="1.64" ry="3.53" fill="#fff" opacity="0.54" transform="rotate(-3 539.35 176.6)"/>
<ellipse cx="550.95" cy="10.91" rx="1.39" ry="4.84" fill="#000" opacity="0.35" transform="rotate(-3 550.95 10.91)"/>
<ellipse cx="697.16" cy="170.28" rx="1.81" ry="4.24" fill="#000" opacity="0.48" transform="rotate(-3 697.16 170.28)"/>
<ellipse cx="538.9" cy="92.6" rx="1.36" ry="5.27" fill="#000" opacity="0.52" transform="rotate(-3 538.9 92.6)"/>
<ellipse cx="592.6" cy="71.93" rx="1.51" ry="5.48" fill="#fff" opacity="0.5" transform="rotate(-3 592.6 71.93)"/>
<ellipse cx="650.28" cy="188.67" rx="1.59" ry="4.15" fill="#fff" opacity="0.65" transform="rotate(-3 650.28 188.67)"/>
<ellipse cx="557.52" cy="117.26" rx="1.7" ry="3.04" fill="#fff" opacity="0.42" transform="rotate(-3 557.52 117.26)"/>
<ellipse cx="581.11" cy="176.44" rx="1.68" ry="3.42" fill="#fff" opacity="0.39" transform="rotate(-3 581.11 176.44)"/>
<ellipse cx="528.28" cy="155.35" rx="1.5" ry="4.55" fill="#000" opacity="0.47" transform="rotate(-3 528.28 155.35)"/>
<ellipse cx="684.06" cy="182.24" rx="1.99" ry="5.38" fill="#fff" opacity="0.59" transform="rotate(-3 684.06 182.24)"/>
<ellipse cx="681.15" cy="95.31" rx="1.4" ry="5.13" fill="#fff" opacity="0.41" transform="rotate(-3 681.15 95.31)"/>
<ellipse cx="528.97" cy="153.78" rx="1.59" ry="5.01" fill="#000" opacity="0.31" transform="rotate(-3 528.97 153.78)"/>
<ellipse cx="564.24" cy="57.92" rx="1.34" ry="2.71" fill="#fff" opacity="0.49" transform="rotate(-3 564.24 57.92)"/>
<ellipse cx="684.14" cy="186.92" rx="1.58" ry="3.26" fill="#000" opacity="0.54" transform="rotate(-3 684.14 186.92)"/>
<ellipse cx="614.29" cy="139.52" rx="1.37" ry="5.01" fill="#fff" opacity="0.67" transform="rotate(-3 614.29 139.52)"/>
<ellipse cx="680.83" cy="115.85" rx="1.66" ry="5.05" fill="#fff" opacity="0.47" transform="rotate(-3 680.83 115.85)"/>
<ellipse cx="615.92" cy="55.33" rx="1.21" ry="4.56" fill="#000" opacity="0.54" transform="rotate(-3 615.92 55.33)"/>
<ellipse cx="520.39" cy="114.43" rx="1.88" ry="4.25" fill="#000" opacity="0.36" transform="rotate(-3 520.39 114.43)"/>
<ellipse cx="591.85" cy="182.32" rx="1.31" ry="2.78" fill="#000" opacity="0.32" transform="rotate(-3 591.85 182.32)"/>
<ellipse cx="520.73" cy="87.12" rx="1.89" ry="4.47" fill="#fff" opacity="0.4" transform="rotate(-3 520.73 87.12)"/>
<ellipse cx="616.73" cy="64.32" rx="1.38" ry="3" fill="#fff" opacity="0.42" transform="rotate(-3 616.73 64.32)"/>
<ellipse cx="586.65" cy="136.06" rx="1.24" ry="4.63" fill="#fff" opacity="0.7" transform="rotate(-3 586.65 136.06)"/>
<ellipse cx="660.78" cy="151.07" rx="1.57" ry="2.69" fill="#fff" opacity="0.66" transform="rotate(-3 660.78 151.07)"/>
<ellipse cx="548.78" cy="136.34" rx="1.76" ry="3.44" fill="#fff" opacity="0.37" transform="rotate(-3 548.78 136.34)"/>
<ellipse cx="588.72" cy="61.55" rx="1.44" ry="4.01" fill="#000" opacity="0.44" transform="rotate(-3 588.72 61.55)"/>
<ellipse cx="693.32" cy="22.33" rx="1.61" ry="4.7" fill="#fff" opacity="0.74" transform="rotate(-3 693.32 22.33)"/>
<ellipse cx="574" cy="134.1" rx="1.65" ry="2.69" fill="#fff" opacity="0.68" transform="rotate(-3 574 134.1)"/>
<ellipse cx="698.67" cy="70.07" rx="1.99" ry="2.82" fill="#fff" opacity="0.38" transform="rotate(-3 698.67 70.07)"/>
<ellipse cx="529.71" cy="155.47" rx="1.56" ry="4.36" fill="#000" opacity="0.3" transform="rotate(-3 529.71 155.47)"/>
<ellipse cx="636.55" cy="86.33" rx="1.51" ry="3.7" fill="#fff" opacity="0.44" transform="rotate(-3 636.55 86.33)"/>
<ellipse cx="525.13" cy="84.71" rx="1.76" ry="4.95" fill="#fff" opacity="0.64" transform="rotate(-3 525.13 84.71)"/>
<ellipse cx="601.27" cy="47.98" rx="1.59" ry="4.4" fill="#fff" opacity="0.74" transform="rotate(-3 601.27 47.98)"/>
<ellipse cx="531.97" cy="93.23" rx="1.77" ry="5.17" fill="#fff" opacity="0.66" transform="rotate(-3 531.97 93.23)"/>
<ellipse cx="633.21" cy="145.09" rx="1.89" ry="4.6" fill="#000" opacity="0.47" transform="rotate(-3 633.21 145.09)"/>
<ellipse cx="561.87" cy="174.5" rx="1.69" ry="4.97" fill="#fff" opacity="0.74" transform="rotate(-3 561.87 174.5)"/>
<ellipse cx="700.98" cy="5.19" rx="1.45" ry="3.67" fill="#fff" opacity="0.41" transform="rotate(-3 700.98 5.19)"/>
<ellipse cx="619.46" cy="18.79" rx="1.95" ry="4.73" fill="#fff" opacity="0.53" transform="rotate(-3 619.46 18.79)"/>
<ellipse cx="536.24" cy="181.82" rx="1.36" ry="3.51" fill="#000" opacity="0.46" transform="rotate(-3 536.24 181.82)"/>
<ellipse cx="643.47" cy="52.52" rx="1.46" ry="3.26" fill="#000" opacity="0.51" transform="rotate(-3 643.47 52.52)"/>
<ellipse cx="544.69" cy="130.7" rx="1.68" ry="3.33" fill="#fff" opacity="0.5" transform="rotate(-3 544.69 130.7)"/>
<ellipse cx="691.92" cy="90.86" rx="1.69" ry="3.34" fill="#fff" opacity="0.42" transform="rotate(-3 691.92 90.86)"/>
<ellipse cx="587.93" cy="54.67" rx="1.97" ry="2.6" fill="#fff" opacity="0.67" transform="rotate(-3 587.93 54.67)"/>
<ellipse cx="690.8" cy="135.06" rx="1.6" ry="2.62" fill="#fff" opacity="0.59" transform="rotate(-3 690.8 135.06)"/>
<ellipse cx="646.98" cy="48.68" rx="1.64" ry="2.78" fill="#fff" opacity="0.47" transform="rotate(-3 646.98 48.68)"/>
<ellipse cx="600.92" cy="170.37" rx="1.31" ry="4.88" fill="#fff" opacity="0.68" transform="rotate(-3 600.92 170.37)"/>
<ellipse cx="615" cy="13.14" rx="1.52" ry="4.16" fill="#fff" opacity="0.44" transform="rotate(-3 615 13.14)"/>
<ellipse cx="666.04" cy="160.89" rx="1.91" ry="2.55" fill="#000" opacity="0.45" transform="rotate(-3 666.04 160.89)"/>
<ellipse cx="531.04" cy="171.34" rx="1.81" ry="3.06" fill="#000" opacity="0.31" transform="rotate(-3 531.04 171.34)"/>
<ellipse cx="668.44" cy="116.81" rx="1.58" ry="4.9" fill="#000" opacity="0.38" transform="rotate(-3 668.44 116.81)"/>
<ellipse cx="566.44" cy="69.68" rx="1.7" ry="5.17" fill="#fff" opacity="0.38" transform="rotate(-3 566.44 69.68)"/>
<ellipse cx="528.65" cy="99.19" rx="1.35" ry="3.31" fill="#000" opacity="0.31" transform="rotate(-3 528.65 99.19)"/>
<ellipse cx="522.95" cy="96.08" rx="1.72" ry="2.97" fill="#000" opacity="0.33" transform="rotate(-3 522.95 96.08)"/>
<ellipse cx="690.07" cy="104.17" rx="1.75" ry="4.68" fill="#fff" opacity="0.56" transform="rotate(-3 690.07 104.17)"/>
<ellipse cx="530.64" cy="157.87" rx="1.23" ry="3.56" fill="#fff" opacity="0.56" transform="rotate(-3 530.64 157.87)"/>
<ellipse cx="633.48" cy="36.38" rx="1.6" ry="2.99" fill="#000" opacity="0.51" transform="rotate(-3 633.48 36.38)"/>
<ellipse cx="666.86" cy="172.58" rx="1.37" ry="4.83" fill="#000" opacity="0.53" transform="rotate(-3 666.86 172.58)"/>
<ellipse cx="615.72" cy="172.98" rx="1.51" ry="5.33" fill="#000" opacity="0.53" transform="rotate(-3 615.72 172.98)"/>
<ellipse cx="664.45" cy="6.09" rx="1.69" ry="4.32" fill="#fff" opacity="0.65" transform="rotate(-3 664.45 6.09)"/>
<ellipse cx="636.96" cy="34.03" rx="1.63" ry="5.15" fill="#000" opacity="0.35" transform="rotate(-3 636.96 34.03)"/>
<ellipse cx="702.64" cy="107.2" rx="1.79" ry="5.15" fill="#000" opacity="0.39" transform="rotate(-3 702.64 107.2)"/>
<ellipse cx="531.49" cy="79.44" rx="1.63" ry="4.94" fill="#fff" opacity="0.49" transform="rotate(-3 531.49 79.44)"/>
<ellipse cx="595.09" cy="111.96" rx="1.73" ry="3.13" fill="#fff" opacity="0.39" transform="rotate(-3 595.09 111.96)"/>
<ellipse cx="689.48" cy="101.28" rx="1.61" ry="2.87" fill="#000" opacity="0.36" transform="rotate(-3 689.48 101.28)"/>
</g>
</g>
<g stroke="#fff" fill="none" stroke-linecap="butt">
<path d="M581.5 60.2L585.4 117.8" stroke-width="1.7"/><path d="M586.6 60.2L590.3 118.6" stroke-width="1.7"/>
<path d="M541.7 91.0H577.5" stroke-width="1.25"/><path d="M629.8 88.8H594" stroke-width="1.25"/>
</g>
<path d="M581 91.0l-5.6 -2.5v5z" fill="#fff"/>
<path d="M590.6 88.8l5.6 -2.5v5z" fill="#fff"/>
<text class="se" transform="translate(591.6 79.9) scale(1 1.17)" font-size="13.2" text-anchor="start" fill="#fff" letter-spacing="0.45">0.165nm</text>
<rect x="526.8" y="186.0" width="24" height="2.4" fill="#fff"/>
<text class="se" transform="translate(538.2 183.6) scale(1 1.08)" font-size="12.6" text-anchor="middle" fill="#fff" word-spacing="0.6">1 nm</text>
<text class="sa" x="525" y="22.7" font-size="14.7" text-anchor="middle" fill="#000">C</text>
<path d="M32 397.85H210.5" fill="none" stroke="#606060" stroke-width="1.45"/>
<path d="M32.5 247V398.5" fill="none" stroke="#3a3a3a" stroke-width="1"/>
<path d="M32.5 397.6h-3.5" stroke="#3a3a3a" stroke-width="0.9"/>
<text class="se" transform="translate(27.3 400.5) scale(1 1.07)" font-size="8.4" text-anchor="end" fill="#2a2a2a">0.0</text>
<path d="M32.5 367.48h-3.5" stroke="#3a3a3a" stroke-width="0.9"/>
<text class="se" transform="translate(27.3 370.38) scale(1 1.07)" font-size="8.4" text-anchor="end" fill="#2a2a2a">0.5</text>
<path d="M32.5 337.35h-3.5" stroke="#3a3a3a" stroke-width="0.9"/>
<text class="se" transform="translate(27.3 340.25) scale(1 1.07)" font-size="8.4" text-anchor="end" fill="#2a2a2a">1.0</text>
<path d="M32.5 307.23h-3.5" stroke="#3a3a3a" stroke-width="0.9"/>
<text class="se" transform="translate(27.3 310.12) scale(1 1.07)" font-size="8.4" text-anchor="end" fill="#2a2a2a">1.5</text>
<path d="M32.5 277.1h-3.5" stroke="#3a3a3a" stroke-width="0.9"/>
<text class="se" transform="translate(27.3 280) scale(1 1.07)" font-size="8.4" text-anchor="end" fill="#2a2a2a">2.0</text>
<path d="M32.5 246.98h-3.5" stroke="#3a3a3a" stroke-width="0.9"/>
<text class="se" transform="translate(27.3 249.88) scale(1 1.07)" font-size="8.4" text-anchor="end" fill="#2a2a2a">2.5</text>
<path d="M32.5 397.6v3" stroke="#3a3a3a" stroke-width="0.9"/>
<text class="se" transform="translate(32.5 409.7) scale(1 1.08)" font-size="8.5" text-anchor="middle" fill="#2a2a2a">200</text>
<path d="M79.1 397.6v3" stroke="#3a3a3a" stroke-width="0.9"/>
<text class="se" transform="translate(79.1 409.7) scale(1 1.08)" font-size="8.5" text-anchor="middle" fill="#2a2a2a">300</text>
<path d="M125.7 397.6v3" stroke="#3a3a3a" stroke-width="0.9"/>
<text class="se" transform="translate(125.7 409.7) scale(1 1.08)" font-size="8.5" text-anchor="middle" fill="#2a2a2a">400</text>
<path d="M172.3 397.6v3" stroke="#3a3a3a" stroke-width="0.9"/>
<text class="se" transform="translate(172.3 409.7) scale(1 1.08)" font-size="8.5" text-anchor="middle" fill="#2a2a2a">500</text>
<path d="M32.4 274.5L32.8 266L33.1 271L33.6 259L34 262.5L34.6 251.5L35.1 253.5L35.6 249.6L36.1 252.5L36.6 256.5L37.6 259.9L38.6 258.3L39.5 254.3L40.3 261.9L42 270.3L44 279.6L46.3 290.9L47.4 272.2L48.3 290.5L50.4 302L53.2 314.2L55.3 319.6L55.8 323.6" fill="none" stroke="#a228f0" stroke-width="1.0" stroke-linejoin="round"/>
<path d="M55.8 323.6C56.03 324.27 56.57 326.27 57.2 327.6C57.83 328.93 58.67 330.37 59.6 331.6C60.53 332.83 61.6 333.88 62.8 335C64 336.12 64.93 336.87 66.8 338.3C68.67 339.73 71.8 342.2 74 343.6C76.2 345 78 345.5 80 346.7C82 347.9 83.8 349.12 86 350.8C88.2 352.48 90.8 354.8 93.2 356.8C95.6 358.8 98 360.88 100.4 362.8C102.8 364.72 104.8 366.38 107.6 368.3C110.4 370.22 114 372.53 117.2 374.3C120.4 376.07 123.6 377.53 126.8 378.9C130 380.27 133.2 381.42 136.4 382.5C139.6 383.58 142.4 384.48 146 385.4C149.6 386.32 154 387.2 158 388C162 388.8 166 389.55 170 390.2C174 390.85 178 391.42 182 391.9C186 392.38 189.38 392.7 194 393.1C198.62 393.5 207.08 394.1 209.7 394.3" fill="none" stroke="#a334f1" stroke-width="0.95"/>
<text class="se" transform="translate(126.9 422.5) scale(1 1.12)" font-size="13.2" text-anchor="middle" fill="#2a2a2a">Wavelength(nm)</text>
<text class="se" font-size="13.3" text-anchor="middle" fill="#2a2a2a" transform="translate(12.3 329.8) rotate(-90)">Absorbance</text>
<text class="sa" transform="translate(5.6 222) scale(1 1.05)" font-size="14.5" text-anchor="middle" fill="#000">D</text>
<path d="M259.3 397.85H447.3" fill="none" stroke="#606060" stroke-width="1.45"/>
<path d="M259.8 247V398.5" fill="none" stroke="#3a3a3a" stroke-width="1"/>
<path d="M259.8 397.6h-3.2" stroke="#3a3a3a" stroke-width="0.9"/>
<text class="se" transform="translate(254.2 400.5) scale(1 1.08)" font-size="8.3" text-anchor="end" fill="#2a2a2a">0</text>
<path d="M259.8 379.85h-3.2" stroke="#3a3a3a" stroke-width="0.9"/>
<text class="se" transform="translate(254.2 382.75) scale(1 1.08)" font-size="8.3" text-anchor="end" fill="#2a2a2a">1000</text>
<path d="M259.8 362.1h-3.2" stroke="#3a3a3a" stroke-width="0.9"/>
<text class="se" transform="translate(254.2 365) scale(1 1.08)" font-size="8.3" text-anchor="end" fill="#2a2a2a">2000</text>
<path d="M259.8 344.35h-3.2" stroke="#3a3a3a" stroke-width="0.9"/>
<text class="se" transform="translate(254.2 347.25) scale(1 1.08)" font-size="8.3" text-anchor="end" fill="#2a2a2a">3000</text>
<path d="M259.8 326.6h-3.2" stroke="#3a3a3a" stroke-width="0.9"/>
<text class="se" transform="translate(254.2 329.5) scale(1 1.08)" font-size="8.3" text-anchor="end" fill="#2a2a2a">4000</text>
<path d="M259.8 308.85h-3.2" stroke="#3a3a3a" stroke-width="0.9"/>
<text class="se" transform="translate(254.2 311.75) scale(1 1.08)" font-size="8.3" text-anchor="end" fill="#2a2a2a">5000</text>
<path d="M259.8 291.1h-3.2" stroke="#3a3a3a" stroke-width="0.9"/>
<text class="se" transform="translate(254.2 294) scale(1 1.08)" font-size="8.3" text-anchor="end" fill="#2a2a2a">6000</text>
<path d="M259.8 273.35h-3.2" stroke="#3a3a3a" stroke-width="0.9"/>
<text class="se" transform="translate(254.2 276.25) scale(1 1.08)" font-size="8.3" text-anchor="end" fill="#2a2a2a">7000</text>
<path d="M259.8 255.6h-3.2" stroke="#3a3a3a" stroke-width="0.9"/>
<text class="se" transform="translate(254.2 258.5) scale(1 1.08)" font-size="8.3" text-anchor="end" fill="#2a2a2a">8000</text>
<path d="M259.8 397.6v3" stroke="#3a3a3a" stroke-width="0.9"/>
<text class="se" transform="translate(259.8 409.7) scale(1 1.08)" font-size="8.5" text-anchor="middle" fill="#2a2a2a">200</text>
<path d="M297.2 397.6v3" stroke="#3a3a3a" stroke-width="0.9"/>
<text class="se" transform="translate(297.2 409.7) scale(1 1.08)" font-size="8.5" text-anchor="middle" fill="#2a2a2a">300</text>
<path d="M334.6 397.6v3" stroke="#3a3a3a" stroke-width="0.9"/>
<text class="se" transform="translate(334.6 409.7) scale(1 1.08)" font-size="8.5" text-anchor="middle" fill="#2a2a2a">400</text>
<path d="M372 397.6v3" stroke="#3a3a3a" stroke-width="0.9"/>
<text class="se" transform="translate(372 409.7) scale(1 1.08)" font-size="8.5" text-anchor="middle" fill="#2a2a2a">500</text>
<path d="M409.4 397.6v3" stroke="#3a3a3a" stroke-width="0.9"/>
<text class="se" transform="translate(409.4 409.7) scale(1 1.08)" font-size="8.5" text-anchor="middle" fill="#2a2a2a">600</text>
<path d="M446.8 397.6v3" stroke="#3a3a3a" stroke-width="0.9"/>
<text class="se" transform="translate(446.8 409.7) scale(1 1.08)" font-size="8.5" text-anchor="middle" fill="#2a2a2a">700</text>
<path d="M259.8 394.6C260.4 394.63 262.45 394.87 263.4 394.8C264.35 394.73 264.78 394.22 265.5 394.2C266.22 394.18 266.87 394.83 267.7 394.7C268.53 394.57 269.57 394.03 270.5 393.4C271.43 392.77 272.25 391.65 273.3 390.9C274.35 390.15 275.52 390 276.8 388.9C278.08 387.8 279.72 385.47 281 384.3C282.28 383.13 283.4 382.65 284.5 381.9C285.6 381.15 286.67 380.93 287.6 379.8C288.53 378.67 289.2 376.93 290.1 375.1C291 373.27 291.93 370.67 293 368.8C294.07 366.93 295.1 365.77 296.5 363.9C297.9 362.03 299.88 359.72 301.4 357.6C302.92 355.48 304.48 352.97 305.6 351.2C306.72 349.43 307.48 348.4 308.1 347C308.72 345.6 308.93 344.4 309.3 342.8C309.67 341.2 309.58 340.4 310.3 337.4C311.02 334.4 312.27 329.37 313.6 324.8C314.93 320.23 316.85 315.07 318.3 310C319.75 304.93 321.23 298.42 322.3 294.4C323.37 290.38 323.83 288.72 324.7 285.9C325.57 283.08 326.57 279.92 327.5 277.5C328.43 275.08 329.45 273 330.3 271.4C331.15 269.8 331.82 268.67 332.6 267.9C333.38 267.13 334.13 266.92 335 266.8C335.87 266.68 336.87 266.82 337.8 267.2C338.73 267.58 339.67 268.08 340.6 269.1C341.53 270.12 342.47 271.52 343.4 273.3C344.33 275.08 345.23 277.02 346.2 279.8C347.17 282.58 348.03 286.15 349.2 290C350.37 293.85 351.95 298.02 353.2 302.9C354.45 307.78 355.63 314.03 356.7 319.3C357.77 324.57 359.12 331.97 359.6 334.5" fill="none" stroke="#2e2e2e" stroke-width="0.9"/>
<path d="M348.1 336.3C348.55 333.47 349.92 324.67 350.8 319.3C351.68 313.93 352.7 308.25 353.4 304.1C354.1 299.95 354.37 297.58 355 294.4C355.63 291.22 356.45 287.9 357.2 285C357.95 282.1 358.73 279.27 359.5 277C360.27 274.73 361.02 272.88 361.8 271.4C362.58 269.92 363.28 268.83 364.2 268.1C365.12 267.37 366.3 267.07 367.3 267C368.3 266.93 369.33 267.12 370.2 267.7C371.07 268.28 371.73 269.18 372.5 270.5C373.27 271.82 374.02 273.73 374.8 275.6C375.58 277.47 376.43 279.48 377.2 281.7C377.97 283.92 378.77 286.78 379.4 288.9C380.03 291.02 380.35 292.07 381 294.4C381.65 296.73 382.17 298.75 383.3 302.9C384.43 307.05 386.57 314.92 387.8 319.3C389.03 323.68 389.53 324.82 390.7 329.2C391.87 333.58 393.43 340.35 394.8 345.6C396.17 350.85 397.3 355.9 398.9 360.7C400.5 365.5 402.57 370.52 404.4 374.4C406.23 378.28 408.08 381.35 409.9 384C411.72 386.65 413.25 388.57 415.3 390.3C417.35 392.03 419.68 393.35 422.2 394.4C424.72 395.45 426.3 396.08 430.4 396.6C434.5 397.12 444.07 397.35 446.8 397.5" fill="none" stroke="#e6202c" stroke-width="0.9"/>
<text class="se" x="336.3" y="264.8" font-size="8.5" text-anchor="middle" fill="#2a2a2a">EX</text>
<text class="se" x="366.9" y="264.8" font-size="7.5" text-anchor="middle" fill="#2a2a2a">EM</text>
<text class="se" transform="translate(353.8 423) scale(1 1.1)" font-size="12.95" text-anchor="middle" fill="#2a2a2a">Wavelength(nm)</text>
<text class="se" font-size="12.8" text-anchor="middle" fill="#2a2a2a" transform="translate(229.6 316.3) rotate(-90)">Fluorescence Intensity(a.u.)</text>
<text class="sa" transform="translate(225.8 222) scale(1 1.05)" font-size="14.5" text-anchor="middle" fill="#000">E</text>
<path d="M512.9 397.85H701.22" fill="none" stroke="#606060" stroke-width="1.45"/>
<path d="M513.4 247V398.5" fill="none" stroke="#3a3a3a" stroke-width="1"/>
<path d="M513.4 397.6h-3.2" stroke="#3a3a3a" stroke-width="0.9"/>
<text class="se" transform="translate(507.8 400.5) scale(1 1.08)" font-size="8.3" text-anchor="end" fill="#2a2a2a">0</text>
<path d="M513.4 379.85h-3.2" stroke="#3a3a3a" stroke-width="0.9"/>
<text class="se" transform="translate(507.8 382.75) scale(1 1.08)" font-size="8.3" text-anchor="end" fill="#2a2a2a">1000</text>
<path d="M513.4 362.1h-3.2" stroke="#3a3a3a" stroke-width="0.9"/>
<text class="se" transform="translate(507.8 365) scale(1 1.08)" font-size="8.3" text-anchor="end" fill="#2a2a2a">2000</text>
<path d="M513.4 344.35h-3.2" stroke="#3a3a3a" stroke-width="0.9"/>
<text class="se" transform="translate(507.8 347.25) scale(1 1.08)" font-size="8.3" text-anchor="end" fill="#2a2a2a">3000</text>
<path d="M513.4 326.6h-3.2" stroke="#3a3a3a" stroke-width="0.9"/>
<text class="se" transform="translate(507.8 329.5) scale(1 1.08)" font-size="8.3" text-anchor="end" fill="#2a2a2a">4000</text>
<path d="M513.4 308.85h-3.2" stroke="#3a3a3a" stroke-width="0.9"/>
<text class="se" transform="translate(507.8 311.75) scale(1 1.08)" font-size="8.3" text-anchor="end" fill="#2a2a2a">5000</text>
<path d="M513.4 291.1h-3.2" stroke="#3a3a3a" stroke-width="0.9"/>
<text class="se" transform="translate(507.8 294) scale(1 1.08)" font-size="8.3" text-anchor="end" fill="#2a2a2a">6000</text>
<path d="M513.4 273.35h-3.2" stroke="#3a3a3a" stroke-width="0.9"/>
<text class="se" transform="translate(507.8 276.25) scale(1 1.08)" font-size="8.3" text-anchor="end" fill="#2a2a2a">7000</text>
<path d="M513.4 255.6h-3.2" stroke="#3a3a3a" stroke-width="0.9"/>
<text class="se" transform="translate(507.8 258.5) scale(1 1.08)" font-size="8.3" text-anchor="end" fill="#2a2a2a">8000</text>
<path d="M513.4 397.6v3" stroke="#3a3a3a" stroke-width="0.9"/>
<text class="se" transform="translate(513.4 409.7) scale(1 1.08)" font-size="8.5" text-anchor="middle" fill="#2a2a2a">350</text>
<path d="M540.16 397.6v3" stroke="#3a3a3a" stroke-width="0.9"/>
<text class="se" transform="translate(540.16 409.7) scale(1 1.08)" font-size="8.5" text-anchor="middle" fill="#2a2a2a">400</text>
<path d="M566.92 397.6v3" stroke="#3a3a3a" stroke-width="0.9"/>
<text class="se" transform="translate(566.92 409.7) scale(1 1.08)" font-size="8.5" text-anchor="middle" fill="#2a2a2a">450</text>
<path d="M593.68 397.6v3" stroke="#3a3a3a" stroke-width="0.9"/>
<text class="se" transform="translate(593.68 409.7) scale(1 1.08)" font-size="8.5" text-anchor="middle" fill="#2a2a2a">500</text>
<path d="M620.44 397.6v3" stroke="#3a3a3a" stroke-width="0.9"/>
<text class="se" transform="translate(620.44 409.7) scale(1 1.08)" font-size="8.5" text-anchor="middle" fill="#2a2a2a">550</text>
<path d="M647.2 397.6v3" stroke="#3a3a3a" stroke-width="0.9"/>
<text class="se" transform="translate(647.2 409.7) scale(1 1.08)" font-size="8.5" text-anchor="middle" fill="#2a2a2a">600</text>
<path d="M673.96 397.6v3" stroke="#3a3a3a" stroke-width="0.9"/>
<text class="se" transform="translate(673.96 409.7) scale(1 1.08)" font-size="8.5" text-anchor="middle" fill="#2a2a2a">650</text>
<path d="M700.72 397.6v3" stroke="#3a3a3a" stroke-width="0.9"/>
<text class="se" transform="translate(700.72 409.7) scale(1 1.08)" font-size="8.5" text-anchor="middle" fill="#2a2a2a">700</text>
<path d="M531.4 381.65L532.9 380.37L534.4 378.17L535.9 375.19L537.4 371.56L538.9 367.42L540.4 362.89L541.9 358.13L543.4 353.26L544.9 348.42L546.4 343.64L547.9 338.93L549.4 334.31L550.9 329.76L552.4 325.29L553.9 320.92L555.4 316.63L556.9 312.46L558.4 308.44L559.9 304.64L561.4 301.12L562.9 297.93L564.4 295.13L565.9 292.78L567.4 290.9L568.9 289.48L570.4 288.49L571.9 287.89L573.4 287.65L574.9 287.75L576.4 288.16L577.9 288.85L579.4 289.79L580.9 290.94L582.4 292.29L583.9 293.8L585.4 295.47L586.9 297.29L588.4 299.25L589.9 301.32L591.4 303.51L592.9 305.8L594.4 308.17L595.9 310.62L597.4 313.13L598.9 315.7L600.4 318.31L601.9 320.96L603.4 323.66L604.9 326.4L606.4 329.19L607.9 332.02L609.4 334.9L610.9 337.83L612.4 340.81L613.9 343.83L615.4 346.88L616.9 349.93L618.4 352.97L619.9 355.98L621.4 358.94L622.9 361.82L624.4 364.62L625.9 367.3L627.4 369.86L628.9 372.28L630.4 374.54L631.9 376.67L633.4 378.65L634.9 380.5L636.4 382.21L637.9 383.8L639.4 385.25L640.9 386.58L642.4 387.79L643.9 388.87L645.4 389.85L646.9 390.72L648.4 391.5L649.9 392.19L651.4 392.79L652.9 393.32L654.4 393.78L655.9 394.18L657.4 394.53L658.9 394.83L660.4 395.09L661.9 395.32L663.4 395.52L664.9 395.71L666.4 395.88L667.9 396.05L669.4 396.19L670.9 396.33L672.4 396.46L673.9 396.57L675.4 396.68L676.9 396.78L678.4 396.86L679.9 396.94L681.4 397.01L682.9 397.08L684.4 397.14L685.9 397.19L687.4 397.24L688.9 397.28L690.4 397.31L691.9 397.35L693.4 397.38L694.9 397.4L696.4 397.43L697.9 397.45L699.4 397.47" fill="none" stroke="#515151" stroke-width="0.85" stroke-linejoin="round"/>
<path d="M537.3 375.52L538.8 373.87L540.3 370.55L541.8 366.15L543.3 361.28L544.8 356.25L546.3 351.1L547.8 345.85L549.3 340.51L550.8 335.11L552.3 329.69L553.8 324.29L555.3 318.95L556.8 313.74L558.3 308.69L559.8 303.84L561.3 299.25L562.8 294.97L564.3 291.03L565.8 287.49L567.3 284.39L568.8 281.78L570.3 279.7L571.8 278.15L573.3 277.1L574.8 276.49L576.3 276.31L577.8 276.49L579.3 277.02L580.8 277.85L582.3 278.93L583.8 280.24L585.3 281.74L586.8 283.42L588.3 285.28L589.8 287.31L591.3 289.49L592.8 291.83L594.3 294.31L595.8 296.92L597.3 299.66L598.8 302.52L600.3 305.49L601.8 308.56L603.3 311.73L604.8 314.99L606.3 318.32L607.8 321.67L609.3 325.01L610.8 328.28L612.3 331.44L613.8 334.51L615.3 337.59L616.8 340.78L618.3 344.15L619.8 347.65L621.3 351.24L622.8 354.85L624.3 358.42L625.8 361.91L627.3 365.24L628.8 368.37L630.3 371.24L631.8 373.84L633.3 376.17L634.8 378.28L636.3 380.17L637.8 381.87L639.3 383.4L640.8 384.78L642.3 386.03L643.8 387.18L645.3 388.23L646.8 389.21L648.3 390.11L649.8 390.94L651.3 391.7L652.8 392.39L654.3 393.01L655.8 393.58L657.3 394.08L658.8 394.54L660.3 394.94L661.8 395.29L663.3 395.59L664.8 395.86L666.3 396.08L667.8 396.27L669.3 396.43L670.8 396.55L672.3 396.65L673.8 396.73L675.3 396.79L676.8 396.83L678.3 396.85L679.8 396.86L681.3 396.87L682.8 396.87L684.3 396.87L685.8 396.87L687.3 396.88L688.8 396.89L690.3 396.92L691.8 396.95L693.3 397.01L694.8 397.09L696.3 397.18L697.8 397.31L699.3 397.47" fill="none" stroke="#f14040" stroke-width="0.85" stroke-linejoin="round"/>
<path d="M543.2 370.33L544.7 366.82L546.2 362.52L547.7 357.56L549.2 352.05L550.7 346.13L552.2 339.93L553.7 333.56L555.2 327.15L556.7 320.84L558.2 314.74L559.7 308.93L561.2 303.42L562.7 298.25L564.2 293.42L565.7 288.96L567.2 284.88L568.7 281.21L570.2 277.95L571.7 275.13L573.2 272.76L574.7 270.87L576.2 269.46L577.7 268.5L579.2 267.97L580.7 267.86L582.2 268.14L583.7 268.79L585.2 269.79L586.7 271.12L588.2 272.75L589.7 274.68L591.2 276.87L592.7 279.33L594.2 282.05L595.7 285.02L597.2 288.23L598.7 291.67L600.2 295.24L601.7 298.82L603.2 302.29L604.7 305.61L606.2 308.83L607.7 312.04L609.2 315.31L610.7 318.69L612.2 322.18L613.7 325.77L615.2 329.46L616.7 333.23L618.2 337.07L619.7 340.98L621.2 344.93L622.7 348.89L624.2 352.8L625.7 356.63L627.2 360.33L628.7 363.85L630.2 367.15L631.7 370.19L633.2 372.93L634.7 375.39L636.2 377.61L637.7 379.6L639.2 381.38L640.7 382.97L642.2 384.41L643.7 385.71L645.2 386.89L646.7 387.97L648.2 388.98L649.7 389.9L651.2 390.75L652.7 391.53L654.2 392.24L655.7 392.89L657.2 393.47L658.7 393.99L660.2 394.46L661.7 394.88L663.2 395.24L664.7 395.56L666.2 395.84L667.7 396.07L669.2 396.27L670.7 396.44L672.2 396.57L673.7 396.68L675.2 396.76L676.7 396.83L678.2 396.87L679.7 396.9L681.2 396.92L682.7 396.93L684.2 396.94L685.7 396.94L687.2 396.95L688.7 396.96L690.2 396.98L691.7 397.01L693.2 397.06L694.7 397.12L696.2 397.2L697.7 397.31L699.2 397.44" fill="none" stroke="#1a6fdf" stroke-width="0.85" stroke-linejoin="round"/>
<path d="M548.4 361.98L549.9 359.97L551.4 356.15L552.9 350.99L554.4 344.98L555.9 338.45L557.4 331.66L558.9 324.81L560.4 318.13L561.9 311.8L563.4 305.86L564.9 300.3L566.4 295.14L567.9 290.39L569.4 286.05L570.9 282.13L572.4 278.63L573.9 275.57L575.4 272.95L576.9 270.78L578.4 269.07L579.9 267.8L581.4 266.97L582.9 266.55L584.4 266.53L585.9 266.88L587.4 267.59L588.9 268.64L590.4 270.01L591.9 271.67L593.4 273.62L594.9 275.82L596.4 278.27L597.9 280.94L599.4 283.82L600.9 286.88L602.4 290.1L603.9 293.47L605.4 296.97L606.9 300.58L608.4 304.27L609.9 308.05L611.4 311.9L612.9 315.81L614.4 319.77L615.9 323.78L617.4 327.82L618.9 331.89L620.4 336.03L621.9 340.3L623.4 344.75L624.9 349.26L626.4 353.64L627.9 357.73L629.4 361.46L630.9 364.87L632.4 367.97L633.9 370.79L635.4 373.34L636.9 375.66L638.4 377.76L639.9 379.67L641.4 381.41L642.9 383L644.4 384.47L645.9 385.83L647.4 387.08L648.9 388.24L650.4 389.3L651.9 390.27L653.4 391.15L654.9 391.95L656.4 392.67L657.9 393.31L659.4 393.88L660.9 394.39L662.4 394.83L663.9 395.22L665.4 395.55L666.9 395.83L668.4 396.06L669.9 396.26L671.4 396.41L672.9 396.53L674.4 396.62L675.9 396.68L677.4 396.73L678.9 396.75L680.4 396.77L681.9 396.77L683.4 396.77L684.9 396.76L686.4 396.76L687.9 396.77L689.4 396.79L690.9 396.82L692.4 396.88L693.9 396.95L695.4 397.06L696.9 397.19L698.4 397.37L699.9 397.5" fill="none" stroke="#37ad6b" stroke-width="0.85" stroke-linejoin="round"/>
<path d="M553.7 355.25L555.2 351.77L556.7 347.21L558.2 341.82L559.7 335.81L561.2 329.44L562.7 322.94L564.2 316.54L565.7 310.42L567.2 304.62L568.7 299.15L570.2 294.04L571.7 289.3L573.2 284.95L574.7 281.02L576.2 277.52L577.7 274.47L579.2 271.89L580.7 269.8L582.2 268.19L583.7 267.04L585.2 266.34L586.7 266.06L588.2 266.19L589.7 266.7L591.2 267.58L592.7 268.81L594.2 270.37L595.7 272.24L597.2 274.39L598.7 276.82L600.2 279.5L601.7 282.41L603.2 285.53L604.7 288.85L606.2 292.33L607.7 295.98L609.2 299.76L610.7 303.65L612.2 307.63L613.7 311.66L615.2 315.71L616.7 319.78L618.2 323.92L619.7 328.19L621.2 332.65L622.7 337.26L624.2 341.94L625.7 346.57L627.2 351.06L628.7 355.3L630.2 359.21L631.7 362.79L633.2 366.07L634.7 369.05L636.2 371.77L637.7 374.25L639.2 376.5L640.7 378.55L642.2 380.41L643.7 382.12L645.2 383.68L646.7 385.12L648.2 386.46L649.7 387.69L651.2 388.81L652.7 389.84L654.2 390.78L655.7 391.63L657.2 392.39L658.7 393.07L660.2 393.68L661.7 394.22L663.2 394.69L664.7 395.1L666.2 395.45L667.7 395.75L669.2 396L670.7 396.21L672.2 396.37L673.7 396.5L675.2 396.6L676.7 396.67L678.2 396.72L679.7 396.75L681.2 396.76L682.7 396.77L684.2 396.77L685.7 396.77L687.2 396.78L688.7 396.79L690.2 396.81L691.7 396.86L693.2 396.92L694.7 397.01L696.2 397.13L697.7 397.28L699.2 397.47" fill="none" stroke="#b177de" stroke-width="0.85" stroke-linejoin="round"/>
<path d="M559.9 348.62L561.4 344.83L562.9 340L564.4 334.54L565.9 328.7L567.4 322.62L568.9 316.43L570.4 310.25L571.9 304.21L573.4 298.44L574.9 293.03L576.4 288.04L577.9 283.53L579.4 279.55L580.9 276.16L582.4 273.34L583.9 271.08L585.4 269.33L586.9 268.06L588.4 267.26L589.9 266.89L591.4 266.93L592.9 267.38L594.4 268.2L595.9 269.39L597.4 270.92L598.9 272.77L600.4 274.93L601.9 277.38L603.4 280.1L604.9 283.07L606.4 286.28L607.9 289.7L609.4 293.32L610.9 297.12L612.4 301.08L613.9 305.18L615.4 309.41L616.9 313.74L618.4 318.16L619.9 322.67L621.4 327.27L622.9 331.96L624.4 336.75L625.9 341.63L627.4 346.55L628.9 351.32L630.4 355.75L631.9 359.72L633.4 363.26L634.9 366.45L636.4 369.35L637.9 372L639.4 374.44L640.9 376.67L642.4 378.71L643.9 380.58L645.4 382.29L646.9 383.85L648.4 385.27L649.9 386.57L651.4 387.77L652.9 388.87L654.4 389.87L655.9 390.79L657.4 391.63L658.9 392.38L660.4 393.06L661.9 393.67L663.4 394.21L664.9 394.69L666.4 395.11L667.9 395.47L669.4 395.78L670.9 396.04L672.4 396.26L673.9 396.44L675.4 396.59L676.9 396.7L678.4 396.79L679.9 396.86L681.4 396.9L682.9 396.93L684.4 396.95L685.9 396.97L687.4 396.98L688.9 396.99L690.4 397L691.9 397.03L693.4 397.07L694.9 397.13L696.4 397.21L697.9 397.31L699.4 397.44" fill="none" stroke="#cc9900" stroke-width="0.85" stroke-linejoin="round"/>
<path d="M565.8 342.47L567.3 337.57L568.8 332.27L570.3 326.66L571.8 320.85L573.3 314.96L574.8 309.08L576.3 303.34L577.8 297.83L579.3 292.66L580.8 287.94L582.3 283.74L583.8 280.05L585.3 276.89L586.8 274.24L588.3 272.12L589.8 270.52L591.3 269.45L592.8 268.9L594.3 268.87L595.8 269.32L597.3 270.24L598.8 271.57L600.3 273.28L601.8 275.33L603.3 277.7L604.8 280.34L606.3 283.21L607.8 286.29L609.3 289.55L610.8 292.99L612.3 296.61L613.8 300.41L615.3 304.38L616.8 308.53L618.3 312.84L619.8 317.32L621.3 321.94L622.8 326.65L624.3 331.42L625.8 336.19L627.3 340.92L628.8 345.57L630.3 350.09L631.8 354.43L633.3 358.56L634.8 362.42L636.3 365.97L637.8 369.17L639.3 371.98L640.8 374.43L642.3 376.59L643.8 378.52L645.3 380.28L646.8 381.94L648.3 383.49L649.8 384.95L651.3 386.3L652.8 387.55L654.3 388.7L655.8 389.75L657.3 390.7L658.8 391.57L660.3 392.36L661.8 393.06L663.3 393.69L664.8 394.24L666.3 394.73L667.8 395.16L669.3 395.52L670.8 395.84L672.3 396.1L673.8 396.32L675.3 396.5L676.8 396.64L678.3 396.75L679.8 396.84L681.3 396.9L682.8 396.94L684.3 396.96L685.8 396.98L687.3 396.99L688.8 397L690.3 397.02L691.8 397.04L693.3 397.08L694.8 397.13L696.3 397.2L697.8 397.3L699.3 397.42" fill="none" stroke="#00cbcc" stroke-width="0.85" stroke-linejoin="round"/>
<path d="M572.3 335.48L573.8 330.32L575.3 325L576.8 319.61L578.3 314.2L579.8 308.86L581.3 303.64L582.8 298.64L584.3 293.92L585.8 289.54L587.3 285.59L588.8 282.14L590.3 279.25L591.8 276.94L593.3 275.19L594.8 274L596.3 273.36L597.8 273.26L599.3 273.69L600.8 274.64L602.3 276.08L603.8 277.92L605.3 280.1L606.8 282.52L608.3 285.11L609.8 287.84L611.3 290.73L612.8 293.81L614.3 297.13L615.8 300.71L617.3 304.59L618.8 308.74L620.3 313.14L621.8 317.73L623.3 322.48L624.8 327.35L626.3 332.28L627.8 337.23L629.3 342.08L630.8 346.76L632.3 351.24L633.8 355.49L635.3 359.47L636.8 363.16L638.3 366.52L639.8 369.53L641.3 372.17L642.8 374.47L644.3 376.51L645.8 378.34L647.3 380.04L648.8 381.67L650.3 383.24L651.8 384.73L653.3 386.14L654.8 387.47L656.3 388.71L657.8 389.84L659.3 390.87L660.8 391.8L662.3 392.62L663.8 393.35L665.3 393.98L666.8 394.54L668.3 395.01L669.8 395.42L671.3 395.76L672.8 396.04L674.3 396.26L675.8 396.44L677.3 396.58L678.8 396.68L680.3 396.74L681.8 396.79L683.3 396.81L684.8 396.83L686.3 396.83L687.8 396.83L689.3 396.84L690.8 396.86L692.3 396.89L693.8 396.95L695.3 397.04L696.8 397.16L698.3 397.31L699.8 397.5" fill="none" stroke="#7d4e4e" stroke-width="0.85" stroke-linejoin="round"/>
<rect x="655.2" y="248.2" width="45.4" height="78.1" fill="#fff" stroke="#8a8a8a" stroke-width="0.8"/>
<path d="M656 253.5H673.9" stroke="#515151" stroke-width="0.9"/>
<text class="se" x="675.8" y="256.3" font-size="8.2" text-anchor="start" fill="#2a2a2a" textLength="23.5" lengthAdjust="spacingAndGlyphs">360 nm</text>
<path d="M656 263.1H673.9" stroke="#f14040" stroke-width="1.1"/>
<text class="se" x="675.8" y="265.9" font-size="8.2" text-anchor="start" fill="#2a2a2a" textLength="23.5" lengthAdjust="spacingAndGlyphs">370 nm</text>
<path d="M656 272.7H673.9" stroke="#1a6fdf" stroke-width="1.1"/>
<text class="se" x="675.8" y="275.5" font-size="8.2" text-anchor="start" fill="#2a2a2a" textLength="23.5" lengthAdjust="spacingAndGlyphs">380 nm</text>
<path d="M656 282.3H673.9" stroke="#37ad6b" stroke-width="1.1"/>
<text class="se" x="675.8" y="285.1" font-size="8.2" text-anchor="start" fill="#2a2a2a" textLength="23.5" lengthAdjust="spacingAndGlyphs">390 nm</text>
<path d="M656 291.9H673.9" stroke="#b177de" stroke-width="1.1"/>
<text class="se" x="675.8" y="294.7" font-size="8.2" text-anchor="start" fill="#2a2a2a" textLength="23.5" lengthAdjust="spacingAndGlyphs">400 nm</text>
<path d="M656 301.5H673.9" stroke="#cc9900" stroke-width="1.1"/>
<text class="se" x="675.8" y="304.3" font-size="8.2" text-anchor="start" fill="#2a2a2a" textLength="23.5" lengthAdjust="spacingAndGlyphs">410 nm</text>
<path d="M656 311.1H673.9" stroke="#00cbcc" stroke-width="1.1"/>
<text class="se" x="675.8" y="313.9" font-size="8.2" text-anchor="start" fill="#2a2a2a" textLength="23.5" lengthAdjust="spacingAndGlyphs">420 nm</text>
<path d="M656 320.7H673.9" stroke="#7d4e4e" stroke-width="1.1"/>
<text class="se" x="675.8" y="323.5" font-size="8.2" text-anchor="start" fill="#2a2a2a" textLength="23.5" lengthAdjust="spacingAndGlyphs">430 nm</text>
<text class="se" transform="translate(605.4 423.3) scale(1 1.1)" font-size="13.0" text-anchor="middle" fill="#2a2a2a">Wavelength(nm)</text>
<text class="se" font-size="13.6" text-anchor="middle" fill="#2a2a2a" transform="translate(488 321) rotate(-90)">Fluorescence Intensity(a.u.)</text>
<text class="sa" transform="translate(480.4 222) scale(1 1.05)" font-size="14.5" text-anchor="middle" fill="#000">F</text>
</svg>
</body></html>
